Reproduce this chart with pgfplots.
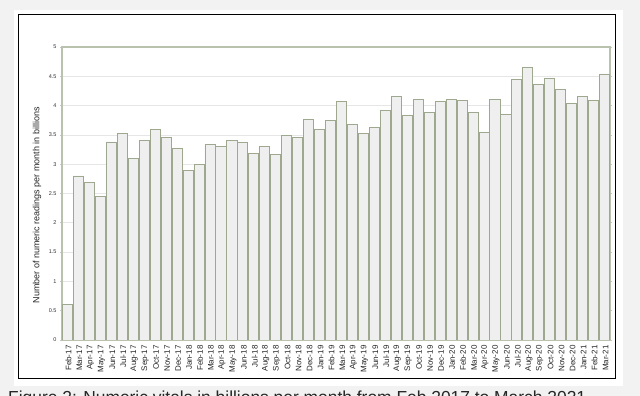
\documentclass[border=0pt]{standalone}
\usepackage{fontspec}
\setmainfont{Liberation Sans}
\usepackage{pgfplots}
\pgfplotsset{compat=1.18}

\definecolor{pagegray}{HTML}{F2F2F2}
\definecolor{axisgreen}{HTML}{B9C2AC}
\definecolor{baredge}{HTML}{9DA88F}
\definecolor{barfill}{HTML}{EFEFEF}
\definecolor{gridgray}{HTML}{E6E6E6}

\begin{document}
\begin{tikzpicture}
\path[use as bounding box] (0,0) rectangle (640pt,396pt);
\fill[pagegray] (0,0) rectangle (640pt,396pt);
\fill[white] (14pt,10pt) rectangle (623pt,386pt);
\draw[black, line width=1pt] (18.5pt,17pt) rectangle (615.5pt,381pt);

\begin{scope}
\clip (0,0) rectangle (640pt,396pt);
\node[anchor=base west, inner sep=0pt, font=\fontsize{17.4}{20}\selectfont, text=black!85]
  at (8pt,-8pt) {Figure 2: Numeric vitals in billions per month from Feb 2017 to March 2021};
\end{scope}

\begin{axis}[
  at={(62pt,56pt)}, anchor=south west,
  width=548pt, height=293pt, scale only axis,
  xmin=0.5, xmax=50.5,
  ymin=0, ymax=5,
  ytick={0,0.5,...,5},
  xtick={1,...,50},
  xticklabels={Feb-17,Mar-17,Apr-17,May-17,Jun-17,Jul-17,Aug-17,Sep-17,Oct-17,Nov-17,Dec-17,
    Jan-18,Feb-18,Mar-18,Apr-18,May-18,Jun-18,Jul-18,Aug-18,Sep-18,Oct-18,Nov-18,Dec-18,
    Jan-19,Feb-19,Mar-19,Apr-19,May-19,Jun-19,Jul-19,Aug-19,Sep-19,Oct-19,Nov-19,Dec-19,
    Jan-20,Feb-20,Mar-20,Apr-20,May-20,Jun-20,Jul-20,Aug-20,Sep-20,Oct-20,Nov-20,Dec-20,
    Jan-21,Feb-21,Mar-21},
  xtick style={draw=none},
  ytick style={draw=gridgray!70!gray, line width=0.6pt},
  tick align=outside,
  major tick length=2pt,
  ymajorgrids,
  grid style={draw=gridgray, line width=0.6pt},
  axis line style={draw=axisgreen, line width=1.3pt},
  /pgf/number format/assume math mode=true,
  /pgf/number format/fixed,
  yticklabel style={font=\fontsize{5.5}{6}\selectfont, text=black!80},
  xticklabel style={rotate=90, anchor=east, font=\fontsize{8}{9}\selectfont, text=black!85, yshift=-1pt},
  ylabel={Number of numeric readings per month in billions},
  ylabel style={at={(axis description cs:-0.0456,0.46)}, anchor=center, rotate=0, font=\fontsize{9}{10}\selectfont, text=black!85},
]
\addplot[ybar, bar width=0.92, fill=barfill, draw=baredge, line width=0.8pt] coordinates {
(1,0.60) (2,2.80) (3,2.69) (4,2.45) (5,3.38) (6,3.52) (7,3.10) (8,3.40) (9,3.59) (10,3.46)
(11,3.27) (12,2.89) (13,2.99) (14,3.33) (15,3.30) (16,3.40) (17,3.37) (18,3.19) (19,3.30) (20,3.16)
(21,3.49) (22,3.46) (23,3.76) (24,3.60) (25,3.74) (26,4.07) (27,3.68) (28,3.53) (29,3.63) (30,3.92)
(31,4.16) (32,3.84) (33,4.11) (34,3.89) (35,4.07) (36,4.10) (37,4.09) (38,3.89) (39,3.55) (40,4.11)
(41,3.85) (42,4.45) (43,4.65) (44,4.37) (45,4.47) (46,4.28) (47,4.03) (48,4.15) (49,4.09) (50,4.54)
};
\end{axis}
\end{tikzpicture}
\end{document}
